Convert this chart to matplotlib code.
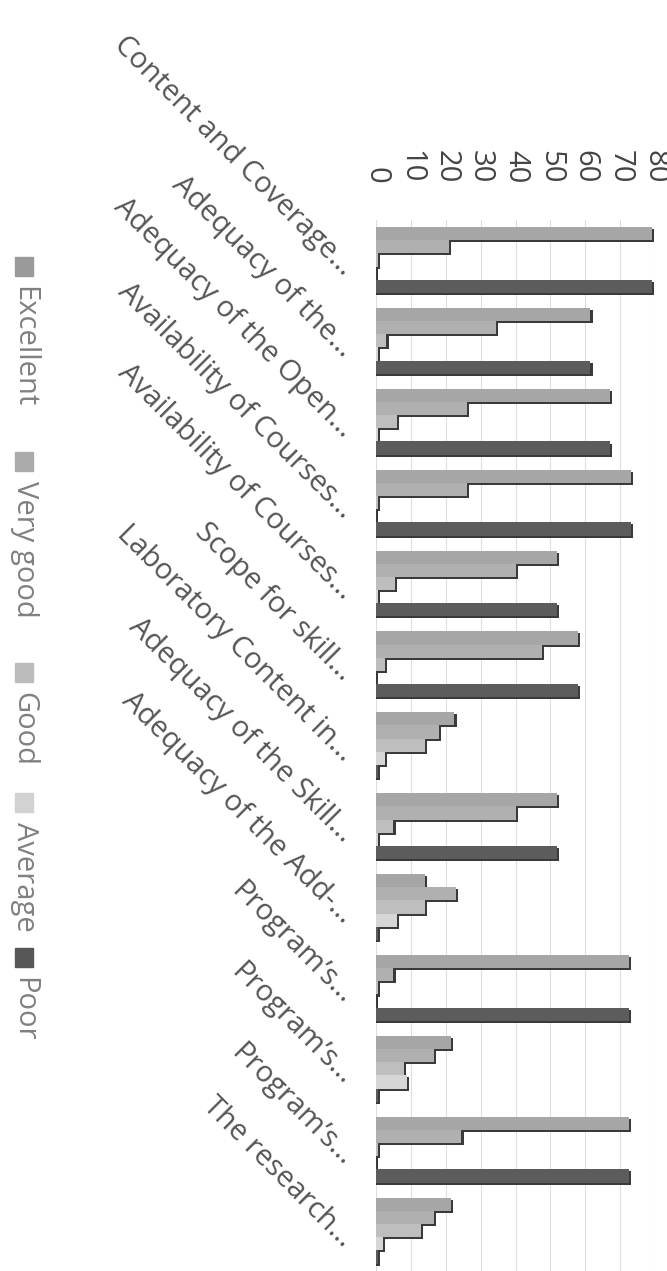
#
# Datos del grafico
#
import numpy as np
import matplotlib.pyplot as plt
import matplotlib.transforms as mtransforms
from matplotlib.patches import Rectangle

categories = [
    "Content and Coverage...",
    "Adequacy of the...",
    "Adequacy of the Open...",
    "Availability of Courses...",
    "Availability of Courses...",
    "Scope for skill...",
    "Laboratory Content in...",
    "Adequacy of the Skill...",
    "Adequacy of the Add-...",
    "Program\u2019s...",
    "Program\u2019s...",
    "Program\u2019s...",
    "The research...",
]
series = ["Excellent", "Very good", "Good", "Average", "Poor"]

excellent = [79, 61.5, 67, 73, 52, 58, 22.5, 52, 14, 72.5, 21.5, 72.5, 21.5]
very_good = [21, 34.5, 26, 26, 40, 47.5, 18, 40, 23, 5, 16.5, 24.5, 16.5]
good = [0.5, 3, 6, 0.5, 5.5, 2.5, 14, 5, 14, 0.5, 8, 0.5, 13]
average = [0, 0.5, 0.5, 0, 0.5, 0, 2.5, 0.5, 6, 0, 9, 0, 2]
poor = [79, 61.5, 67, 73, 52, 58, 0.5, 52, 0.5, 72.5, 0.5, 72.5, 0.5]

value_ticks = list(range(0, 81, 10))

bar_colors = ["#a6a6a6", "#b0b0b0", "#bebebe", "#d6d6d6", "#5c5c5c"]
legend_colors = ["#9a9a9a", "#ababab", "#bcbcbc", "#d2d2d2", "#575757"]

plt.rcParams["font.family"] = ["Open Sans", "DejaVu Sans"]

#
# Figura (el grafico original esta girado 90 grados)
#
W, H = 667, 1271
fig = plt.figure(figsize=(W / 100, H / 100), dpi=100)
ax = fig.add_axes([376 / W, 0, 279 / W, (H - 219.5) / H])

y = np.arange(len(categories))
h = 0.163
values = [excellent, very_good, good, average, poor]

for k, (vals, color) in enumerate(zip(values, bar_colors)):
    pos = y + (k - 2) * h
    vals = np.array(vals)
    # sombra oscura (efecto 3D)
    ax.barh(pos + 0.025, vals + 0.6, height=h, color="#3a3a3a", zorder=2 + 2 * k)
    ax.barh(pos, vals, height=h, color=color, zorder=3 + 2 * k)

ax.set_xlim(0, 80)
ax.set_ylim(len(categories) - 0.5, -0.5)
ax.set_xticks(value_ticks)
ax.xaxis.tick_top()
ax.tick_params(axis="x", length=0, pad=26, labelsize=21, labelcolor="#444444",
               labelrotation=-90)
ax.set_yticks([])
ax.grid(axis="x", color="#dedede", linewidth=0.8)
ax.set_axisbelow(True)
for s in ax.spines.values():
    s.set_visible(False)

#
# Etiquetas de categoria a 45 grados
#
trans = mtransforms.blended_transform_factory(ax.transAxes, ax.transData)
for i, cat in enumerate(categories):
    ax.text(-0.118, i + 0.21, cat, transform=trans, rotation=-45,
            rotation_mode="anchor", ha="right", va="baseline",
            fontsize=21, color="#555555", clip_on=False)

#
# Leyenda (vertical, a la izquierda)
#
legend_top = [257, 452, 663, 793, 948]
for name, color, y0 in zip(series, legend_colors, legend_top):
    fig.add_artist(Rectangle((15 / W, 1 - (y0 + 19) / H), 18 / W, 19 / H,
                             transform=fig.transFigure, color=color))
    fig.text(24 / W, 1 - (y0 + 29) / H, name, rotation=-90, ha="center",
             va="top", fontsize=21, color="#808080")

fig.savefig("out.png", dpi=100)
